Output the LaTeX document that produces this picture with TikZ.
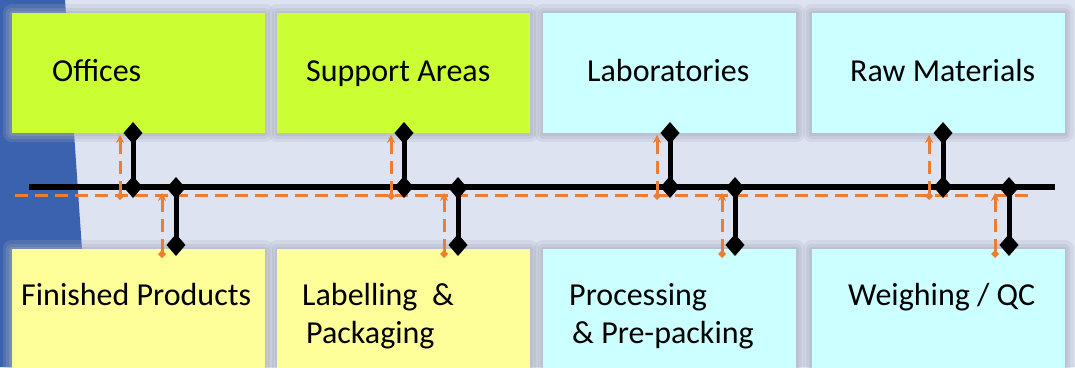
\documentclass[tikz,border=0pt]{standalone}
\usepackage{fontspec}
\setmainfont{Carlito}
\usetikzlibrary{arrows.meta}
\definecolor{backc}{HTML}{DDE3F0}
\definecolor{bluec}{HTML}{3B62AE}
\definecolor{limec}{HTML}{CCFF33}
\definecolor{creamc}{HTML}{FFFF99}
\definecolor{aquac}{HTML}{CCFFFF}
\definecolor{haloc}{HTML}{A4AABB}
\definecolor{orangec}{HTML}{ED7D31}
\begin{document}
\begin{tikzpicture}[x=1pt,y=-1pt,
    room/.style={minimum width=253pt, inner sep=0pt,
      preaction={draw=haloc, line width=18pt, line join=round, opacity=.2},
      preaction={draw=haloc, line width=11pt, line join=round, opacity=.25},
      preaction={draw=haloc, line width=5pt, line join=round, opacity=.3}},
    toprow/.style={room, minimum height=120pt},
    botrow/.style={room, minimum height=136pt},
    tag/.style={anchor=base west, inner sep=0pt, font=\fontsize{32}{38}\selectfont},
    link/.style={line width=5pt, {Diamond[length=22pt,width=19pt]}-{Diamond[length=22pt,width=19pt]}},
    trace/.style={draw=orangec, line width=3pt, dash pattern=on 13pt off 7pt,
      {Diamond[length=8pt,width=8pt]}-{Stealth[length=8pt,width=8pt]}}]
  \useasboundingbox (0,0) rectangle (1075,367);
  \fill[backc] (0,0) rectangle (1075,367);
  \fill[bluec] (0,0) -- (65,0) -- (90,367) -- (0,367) -- cycle;

  % areas
  \node[toprow, fill=limec] (offices) at (138,73) {};
  \node[toprow, fill=limec] (support) at (403.5,73) {};
  \node[toprow, fill=aquac] (labs) at (669.5,73) {};
  \node[toprow, fill=aquac] (rawmat) at (938,73) {};
  \node[botrow, fill=creamc] (finished) at (138,317) {};
  \node[botrow, fill=creamc] (labelling) at (403.5,317) {};
  \node[botrow, fill=aquac] (processing) at (669.5,317) {};
  \node[botrow, fill=aquac] (weighing) at (938,317) {};

  \node[tag] (offices-t) at (52,81) {Offices};
  \node[tag] (support-t) at (306,81) {Support Areas};
  \node[tag] (labs-t) at (587,81) {Laboratories};
  \node[tag] (rawmat-t) at (850,81) {Raw Materials};
  \node[tag] (finished-t) at (21,305) {Finished Products};
  \node[tag] (labelling-t) at (302,305) {Labelling\ \ \&};
  \node[tag] (labelling-u) at (306,343) {Packaging};
  \node[tag] (processing-t) at (569,305) {Processing};
  \node[tag] (processing-u) at (572,343) {\& Pre-packing};
  \node[tag] (weighing-t) at (848,305) {Weighing / QC};

  % corridor
  \coordinate (dashW) at (15,195);
  \coordinate (dashE) at (1035,195);
  \draw[orangec, line width=3pt, dash pattern=on 13pt off 7pt] (dashW) -- (dashE);
  \coordinate (busW) at (29,187);
  \coordinate (busE) at (1055,187);
  \draw[line width=5.5pt] (busW) -- (busE);

  \foreach \x [count=\i] in {120,391,657,929}
    {\coordinate (ta\i) at (\x,200); \coordinate (tb\i) at (\x,135);
     \draw[trace] (ta\i) -- (tb\i);}
  \foreach \x [count=\i] in {162,444,722,995}
    {\coordinate (ba\i) at (\x,258); \coordinate (bb\i) at (\x,193);
     \draw[trace] (ba\i) -- (bb\i);}

  \foreach \x [count=\i] in {133,404,670,943}
    {\coordinate (up\i) at (\x,122); \coordinate (uj\i) at (\x,198);
     \draw[link] (uj\i) -- (up\i);}
  \foreach \x [count=\i] in {176,458,735,1009}
    {\coordinate (dj\i) at (\x,177); \coordinate (dn\i) at (\x,256);
     \draw[link] (dj\i) -- (dn\i);}
\end{tikzpicture}
\end{document}
